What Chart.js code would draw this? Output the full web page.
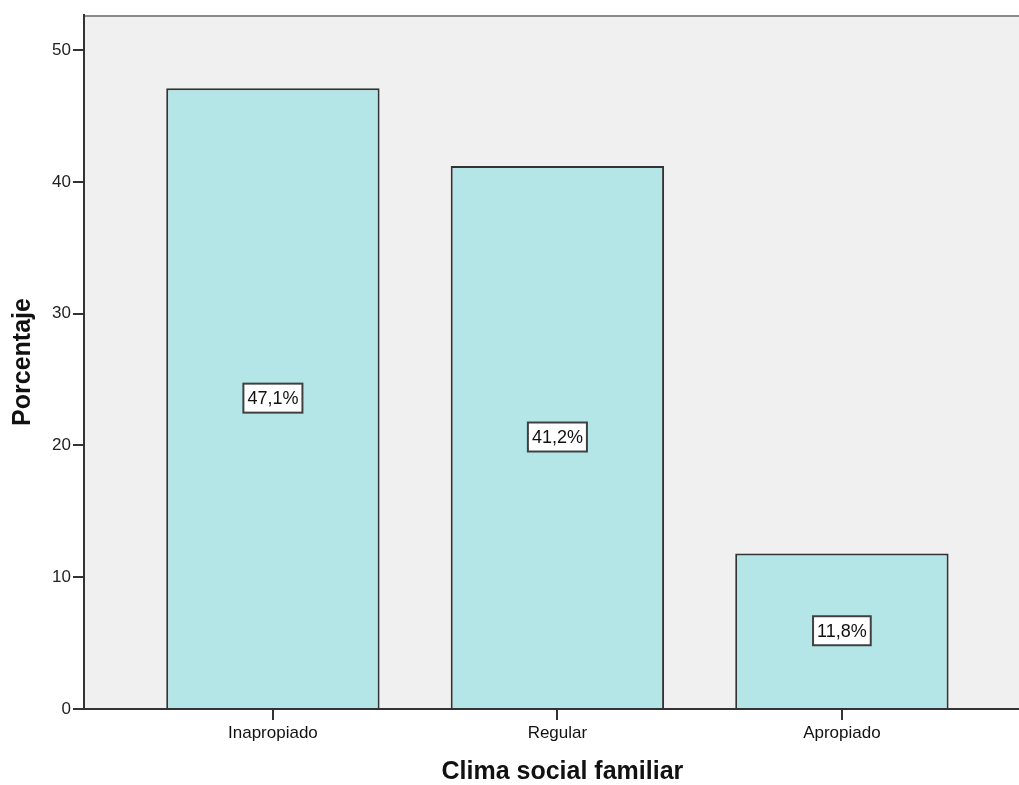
<!DOCTYPE html>
<html>
<head>
<meta charset="utf-8">
<script src="https://cdn.jsdelivr.net/npm/chart.js@4.4.1/dist/chart.umd.min.js"></script>
<style>
    html, body { margin: 0; padding: 0; background: #fff; overflow: hidden; }
    #wrap { width: 1019px; height: 785px; }
</style>
</head>
<body>
<div id="wrap"><canvas id="chart"></canvas></div>
<script>
// Clima social familiar - porcentaje por categoría
const categories = ['Inapropiado', 'Regular', 'Apropiado'];
const percentages = [47.1, 41.2, 11.8];
const percentLabels = ['47,1%', '41,2%', '11,8%'];
const yTicks = [0, 10, 20, 30, 40, 50];

const FONT = '"Liberation Sans", Arial, sans-serif';

// fondo gris del área de trazado + borde superior
const plotBackground = {
    id: 'plotBackground',
    beforeDraw(chart) {
        const { ctx, chartArea: a } = chart;
        ctx.save();
        ctx.fillStyle = '#f0f0f0';
        ctx.fillRect(a.left, a.top, a.right - a.left, a.bottom - a.top);
        ctx.strokeStyle = '#8a8a8a';
        ctx.lineWidth = 2;
        ctx.beginPath();
        ctx.moveTo(a.left, a.top + 1);
        ctx.lineTo(a.right, a.top + 1);
        ctx.stroke();
        ctx.restore();
    }
};

// etiquetas "47,1%" en cajas blancas en el centro de cada barra
const boxLabels = {
    id: 'boxLabels',
    afterDatasetsDraw(chart) {
        const { ctx } = chart;
        const meta = chart.getDatasetMeta(0);
        ctx.save();
        ctx.font = '18px ' + FONT;
        ctx.textAlign = 'center';
        ctx.textBaseline = 'middle';
        meta.data.forEach((bar, i) => {
            const text = percentLabels[i];
            const cy = (bar.y + bar.base) / 2;
            const w = ctx.measureText(text).width + 8;
            const h = 29;
            ctx.fillStyle = '#ffffff';
            ctx.fillRect(bar.x - w / 2, cy - h / 2, w, h);
            ctx.strokeStyle = '#404040';
            ctx.lineWidth = 2;
            ctx.strokeRect(bar.x - w / 2, cy - h / 2, w, h);
            ctx.fillStyle = '#111';
            ctx.fillText(text, bar.x, cy + 1);
        });
        ctx.restore();
    }
};

// título del eje X centrado bajo la categoría central
const xTitle = {
    id: 'xTitle',
    afterDraw(chart) {
        const { ctx } = chart;
        const x = chart.scales.x.getPixelForValue(2);
        ctx.save();
        ctx.font = 'bold 25px ' + FONT;
        ctx.fillStyle = '#111';
        ctx.textAlign = 'center';
        ctx.textBaseline = 'middle';
        ctx.fillText('Clima social familiar', x + 5, 772);
        ctx.restore();
    }
};

new Chart(document.getElementById('chart'), {
    type: 'bar',
    data: {
        datasets: [{
            data: percentages.map((v, i) => ({ x: i + 1, y: v })),
            backgroundColor: '#b4e6e8',
            borderColor: '#333333',
            borderWidth: 2,
            borderSkipped: 'bottom',
            categoryPercentage: 1,
            barPercentage: 0.75
        }]
    },
    options: {
        responsive: true,
        maintainAspectRatio: false,
        animation: false,
        layout: { padding: { top: 15, right: 0, left: 0, bottom: 0 } },
        plugins: {
            legend: { display: false },
            tooltip: { enabled: false }
        },
        scales: {
            x: {
                type: 'linear',
                offset: false,
                min: 0.336,
                max: 3.6225,
                afterBuildTicks: s => { s.ticks = categories.map((c, i) => ({ value: i + 1 })); },
                afterFit: s => { s.height = 76; },
                grid: { offset: false, drawOnChartArea: false, drawTicks: true, tickLength: 11, color: '#333', lineWidth: 2 },
                border: { display: true, color: '#333', width: 2 },
                ticks: {
                    padding: 3,
                    color: '#111',
                    font: { family: FONT, size: 17 },
                    callback: v => categories[v - 1]
                }
            },
            y: {
                min: 0,
                max: 52.66,
                afterBuildTicks: s => { s.ticks = yTicks.map(v => ({ value: v })); },
                afterFit: s => { s.width = 84; },
                grid: { drawOnChartArea: false, drawTicks: true, tickLength: 11, color: '#333', lineWidth: 2 },
                border: { display: true, color: '#333', width: 2 },
                title: {
                    display: true,
                    text: 'Porcentaje',
                    color: '#111',
                    font: { family: FONT, size: 25, weight: 'bold' },
                    padding: { top: 8, bottom: 0 }
                },
                ticks: {
                    padding: 2,
                    color: '#222',
                    font: { family: FONT, size: 17 }
                }
            }
        }
    },
    plugins: [plotBackground, boxLabels, xTitle]
});
</script>
</body>
</html>
